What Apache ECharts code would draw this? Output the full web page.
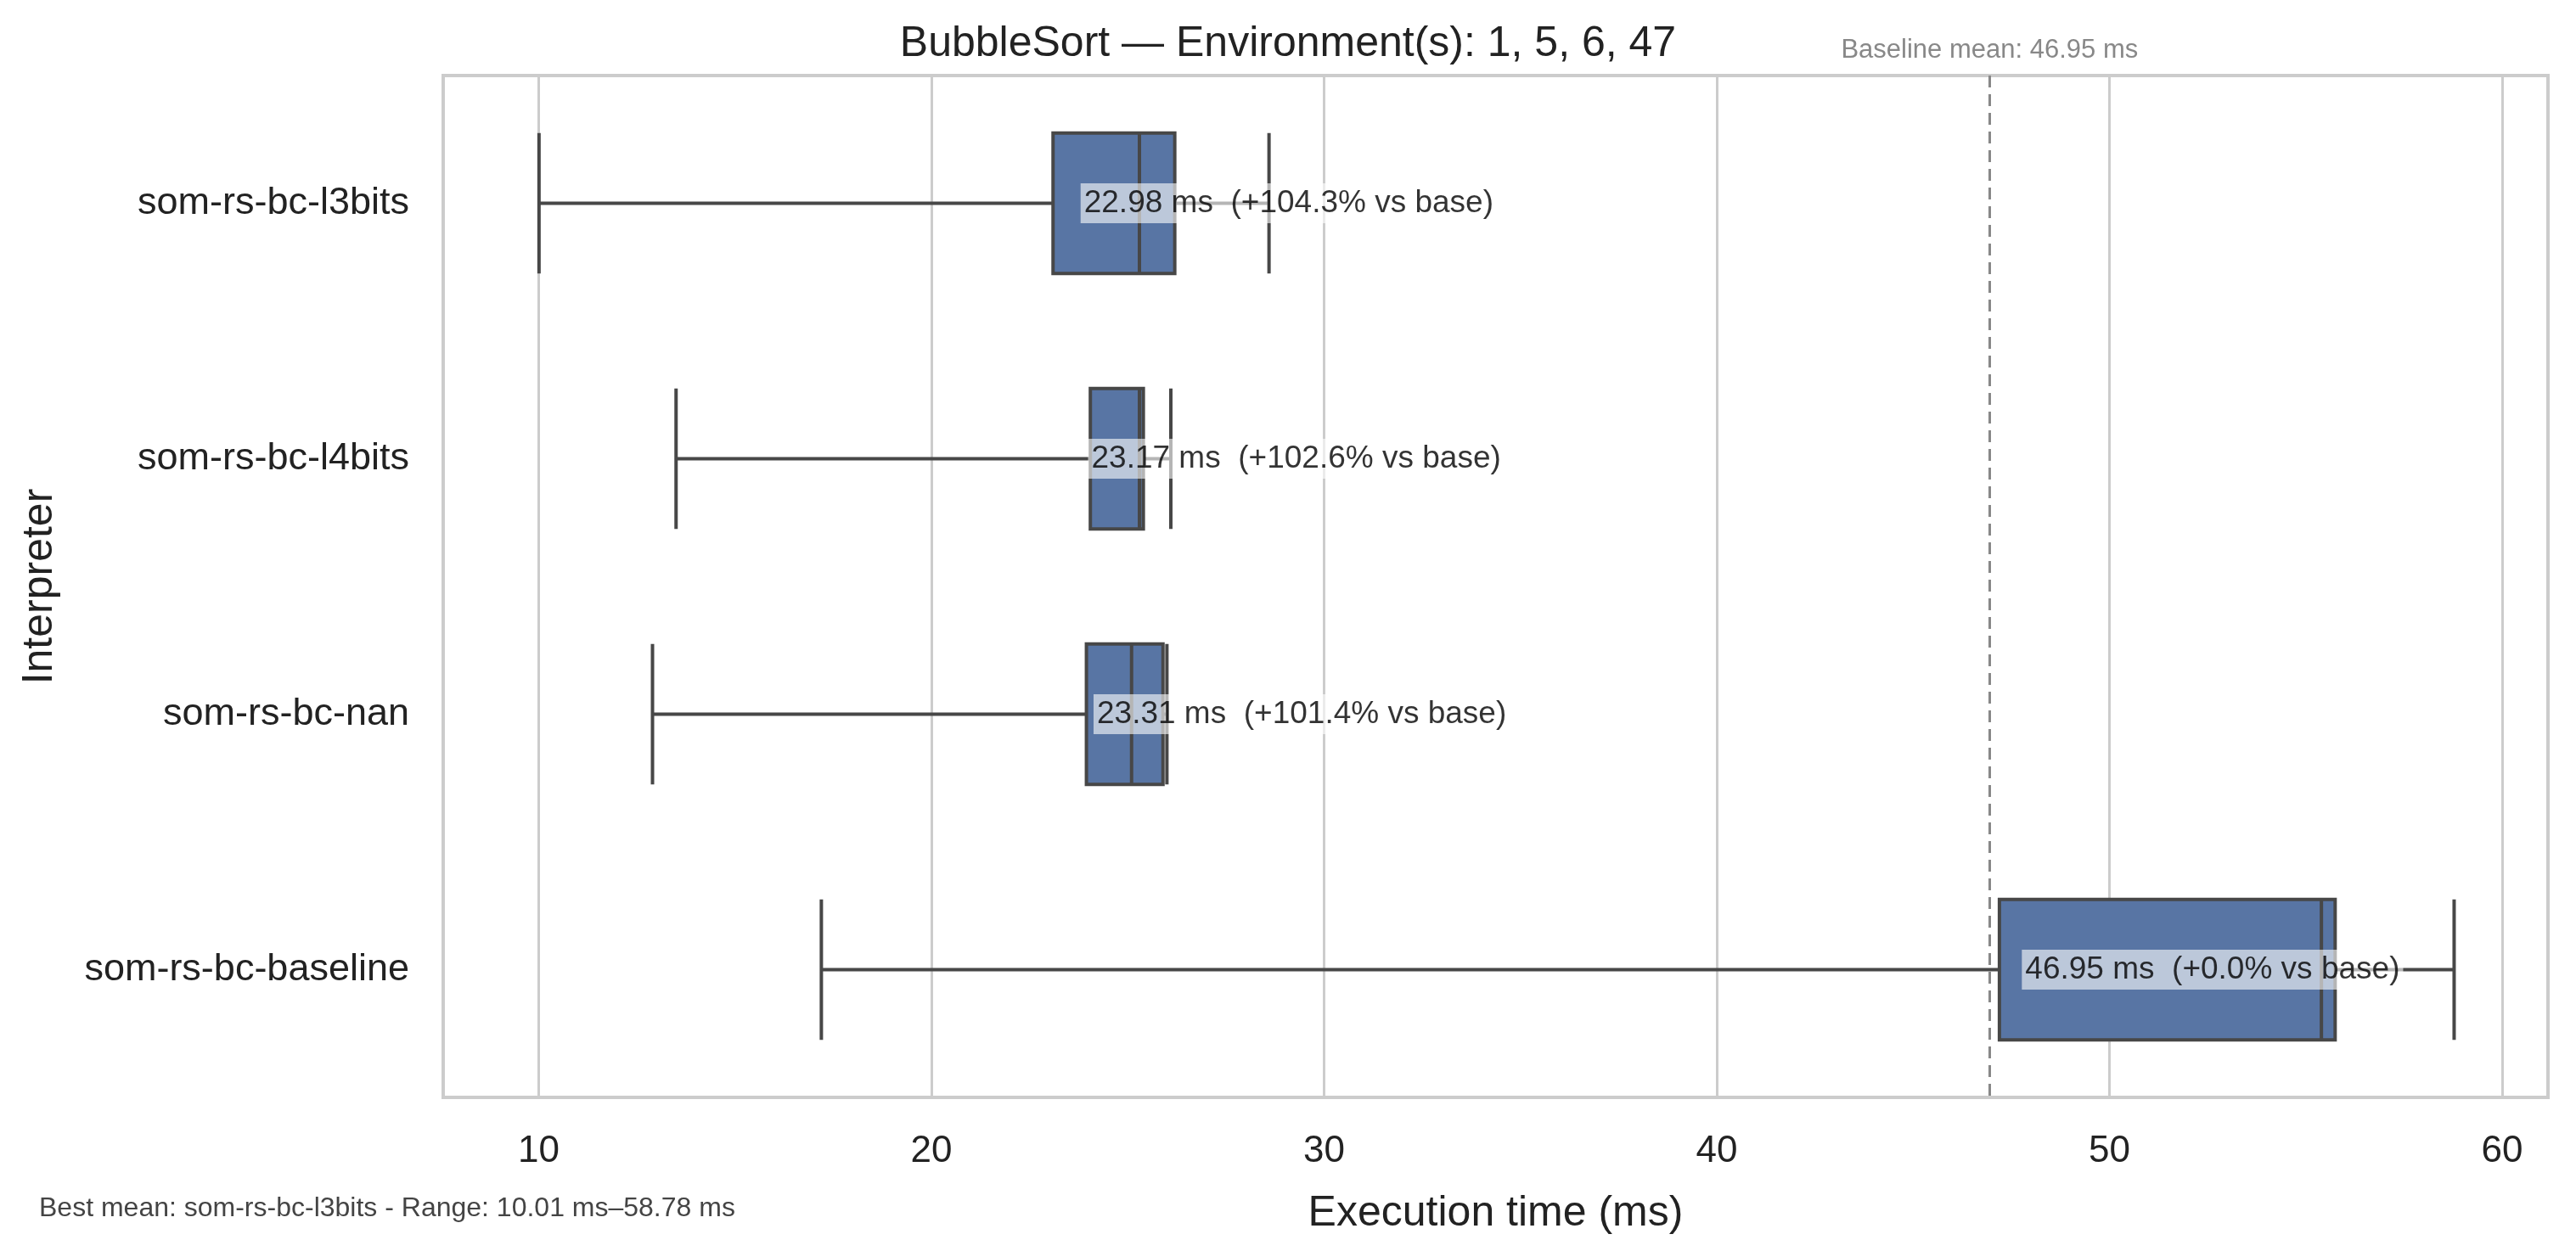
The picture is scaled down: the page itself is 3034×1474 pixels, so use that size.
<!DOCTYPE html>
<html>
<head>
<meta charset="utf-8">
<script src="https://cdn.jsdelivr.net/npm/echarts@6/dist/echarts.min.js"></script>
<style>html,body{margin:0;padding:0;background:#fff}#c{width:3034px;height:1474px}</style>
</head>
<body>
<div id="c"></div>
<script>
// interpreters, top to bottom
const categories = ["som-rs-bc-l3bits", "som-rs-bc-l4bits", "som-rs-bc-nan", "som-rs-bc-baseline"];
// [min, Q1, median, Q3, max] in ms
const boxValues = [
  [10.01, 23.1, 25.3, 26.2, 28.6],
  [13.5, 24.05, 25.3, 25.4, 26.1],
  [12.9, 23.95, 25.1, 25.9, 26.0],
  [17.2, 47.2, 55.4, 55.75, 58.78]
];
const means = [22.98, 23.17, 23.31, 46.95];
const vsBase = ["+104.3%", "+102.6%", "+101.4%", "+0.0%"];
const baselineMean = 46.95;
const xTicks = [10, 20, 30, 40, 50, 60];

const font = "Liberation Sans, Arial, sans-serif";
const chart = echarts.init(document.getElementById("c"));

chart.setOption({
  backgroundColor: "#fff",
  animation: false,
  title: {
    text: "BubbleSort — Environment(s): 1, 5, 6, 47",
    left: "center", top: 22,
    textStyle: { fontFamily: font, fontSize: 50, fontWeight: "normal", color: "#222" }
  },
  grid: { left: 522, right: 33, top: 89, bottom: 181, show: true, borderColor: "#cccccc", borderWidth: 4 },
  xAxis: {
    type: "value", min: 7.57, max: 61.17,
    name: "Execution time (ms)", nameLocation: "middle", nameGap: 112,
    nameTextStyle: { fontFamily: font, fontSize: 50, color: "#222" },
    axisLine: { show: false }, axisTick: { show: false },
    axisLabel: {
      fontFamily: font, fontSize: 44, color: "#222", margin: 42,
      customValues: xTicks
    },
    splitLine: { show: false }
  },
  yAxis: {
    type: "category", data: categories, inverse: true,
    name: "Interpreter", nameLocation: "middle", nameGap: 450, nameRotate: 90,
    nameTextStyle: { fontFamily: font, fontSize: 50, color: "#222" },
    axisLine: { show: false }, axisTick: { show: false },
    axisLabel: { fontFamily: font, fontSize: 45, color: "#222", margin: 40 }
  },
  series: [
    {
      type: "line", data: [], silent: true, z: 0,
      markLine: {
        symbol: "none", silent: true, label: { show: false }, z: 0,
        lineStyle: { color: "#cccccc", width: 3, type: "solid" },
        data: xTicks.map(v => ({ xAxis: v }))
      }
    },
    {
      type: "boxplot",
      data: boxValues,
      boxWidth: ["55%", "55%"],
      itemStyle: { color: "#5875a4", borderColor: "#474747", borderWidth: 4 },
      z: 3
    },
    {
      type: "scatter",
      symbolSize: 0,
      data: means.map((m, i) => [m, categories[i]]),
      z: 5,
      label: {
        show: true, position: "right", distance: 38,
        formatter: p => means[p.dataIndex].toFixed(2) + " ms  (" + vsBase[p.dataIndex] + " vs base)",
        fontFamily: font, fontSize: 37, color: "#000",
        backgroundColor: "rgba(255,255,255,0.75)", padding: [5, 4, 5, 4]
      },
      markLine: {
        symbol: "none", silent: true, z: 4,
        lineStyle: { color: "#888", width: 3, type: [14, 8] },
        label: {
          show: true, position: "start", formatter: "Baseline mean: " + baselineMean + " ms",
          fontFamily: font, fontSize: 31, color: "#888", distance: 14
        },
        data: [{ xAxis: baselineMean }]
      }
    }
  ],
  graphic: [{
    type: "text", left: 46, top: 1408,
    style: { text: "Best mean: som-rs-bc-l3bits - Range: 10.01 ms–58.78 ms", fontFamily: font, fontSize: 32, fill: "#444" }
  }]
});
</script>
</body>
</html>
